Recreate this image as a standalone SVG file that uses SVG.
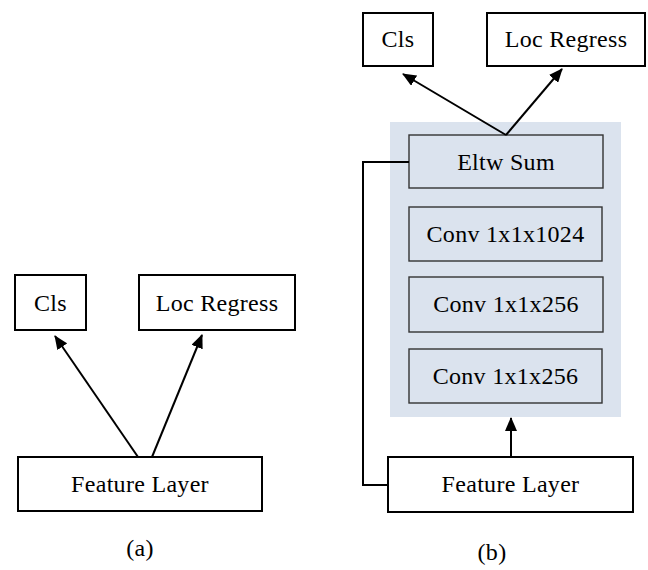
<svg xmlns="http://www.w3.org/2000/svg" width="648" height="570" viewBox="0 0 648 570">
<style>
.box{fill:#fff;stroke:#000;stroke-width:2}
.inner{fill:#dbe3ee;stroke:#333;stroke-width:1.4}
.t{font-family:"Liberation Serif","Times New Roman",serif;font-size:24px;letter-spacing:0.3px;fill:#000;text-anchor:middle}
.c{fill:none;stroke:#000;stroke-width:2}
</style>
<defs>
<marker id="ah" viewBox="0 0 14 12" refX="13" refY="6" markerWidth="14" markerHeight="12" markerUnits="userSpaceOnUse" orient="auto">
<path d="M0,0 L14,6 L0,12 Z" fill="#000"/>
</marker>
</defs>
<rect id="bg" x="390" y="122" width="231" height="295" fill="#dbe3ee"/>
<g id="a-cls"><rect class="box" x="15" y="275" width="71" height="55"/><text class="t" x="50.5" y="311">Cls</text></g>
<g id="a-loc"><rect class="box" x="139" y="275" width="156" height="55"/><text class="t" x="217" y="311">Loc Regress</text></g>
<g id="a-feat"><rect class="box" x="18" y="457" width="244" height="54"/><text class="t" x="140" y="492">Feature Layer</text></g>
<g id="b-cls"><rect class="box" x="363" y="13" width="70" height="53"/><text class="t" x="398" y="47">Cls</text></g>
<g id="b-loc"><rect class="box" x="487" y="13" width="158" height="53"/><text class="t" x="566" y="47">Loc Regress</text></g>
<g id="b-eltw"><rect class="inner" x="409" y="135" width="194" height="53"/><text class="t" x="506" y="170">Eltw Sum</text></g>
<g id="b-conv1"><rect class="inner" x="409" y="207" width="193" height="54"/><text class="t" x="505.5" y="242">Conv 1x1x1024</text></g>
<g id="b-conv2"><rect class="inner" x="409" y="277" width="194" height="55"/><text class="t" x="506" y="312">Conv 1x1x256</text></g>
<g id="b-conv3"><rect class="inner" x="409" y="349" width="193" height="54"/><text class="t" x="505.5" y="384">Conv 1x1x256</text></g>
<g id="b-feat"><rect class="box" x="388" y="457" width="245" height="55"/><text class="t" x="510.5" y="492">Feature Layer</text></g>
<g id="connectors">
<line class="c" x1="138" y1="457" x2="55" y2="336" marker-end="url(#ah)"/>
<line class="c" x1="152" y1="457" x2="202" y2="335" marker-end="url(#ah)"/>
<line class="c" x1="506" y1="135" x2="403" y2="74" marker-end="url(#ah)"/>
<line class="c" x1="506" y1="135" x2="562" y2="69" marker-end="url(#ah)"/>
<line class="c" x1="511" y1="457" x2="511" y2="418" marker-end="url(#ah)"/>
<polyline class="c" points="409,162 363,162 363,485 388,485"/>
</g>
<text class="t" x="140" y="556">(a)</text>
<text class="t" x="492" y="560">(b)</text>
</svg>
